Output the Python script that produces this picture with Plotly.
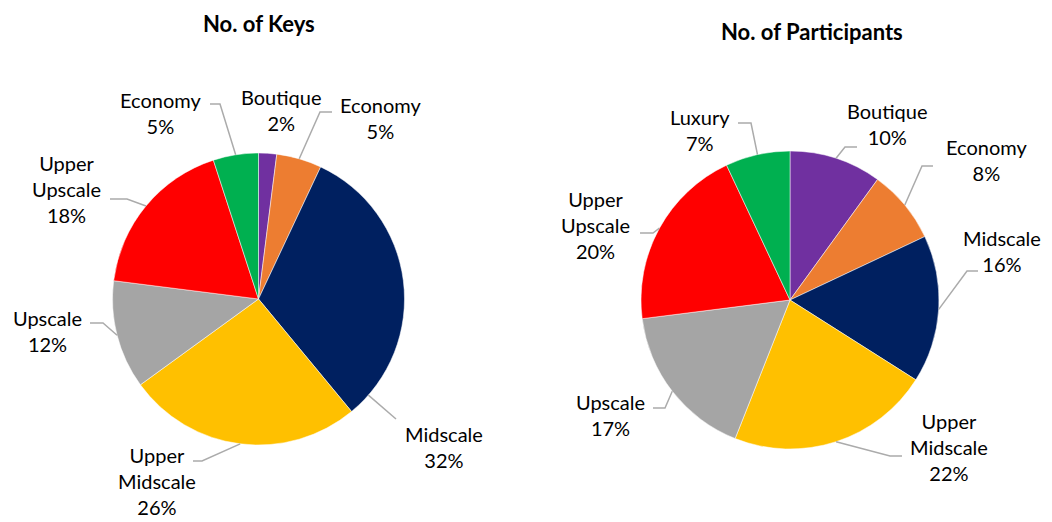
import numpy as np
import plotly.graph_objects as go

W, H = 1052, 522

# slice order, clockwise from 12 o'clock
segments = ["Boutique", "Economy", "Midscale", "Upper Midscale", "Upscale", "Upper Upscale", "Luxury"]
seg_colors = ["#7030A0", "#ED7D31", "#002060", "#FFC000", "#A5A5A5", "#FF0000", "#00B050"]

keys_pct = [2, 5, 32, 26, 12, 18, 5]
keys_names = ["Boutique", "Economy", "Midscale", "Upper<br>Midscale", "Upscale", "Upper<br>Upscale", "Economy"]

part_pct = [10, 8, 16, 22, 17, 20, 7]
part_names = ["Boutique", "Economy", "Midscale", "Upper<br>Midscale", "Upscale", "Upper<br>Upscale", "Luxury"]

# label placement (pixels): text centre, leader start, leader elbow, touch point within slice
keys_text_xy = [(281, 110), (380, 118), (444, 447), (157, 481), (47, 331), (66, 189), (160, 113)]
keys_leader = [None, ((332, 112), (320, 112)), ((396, 419), (396, 419)), ((193, 461), (202, 461)),
               ((90, 323), (103, 323)), ((110, 199), (127, 199)), ((210, 104), (220, 104))]
keys_touch = [0.5, 0.5, 0.92, 0.5, 0.5, 0.5, 0.5]

part_text_xy = [(887, 124), (986, 160), (1002, 251), (949, 447), (610, 415), (595, 225), (700, 130)]
part_leader = [((857, 147), (845, 147)), ((933, 166), (922, 166)), ((978, 271), (967, 271)),
               ((902, 456), (890, 456)), ((653, 408), (665, 408)), ((640, 233), (653, 233)),
               ((738, 123), (751, 123))]
part_touch = [0.5] * 7

charts = [
    dict(title="No. of Keys", title_xy=(259, 24), center=(258.5, 299), r=146,
         values=keys_pct, names=keys_names, text_xy=keys_text_xy, leader=keys_leader, touch=keys_touch),
    dict(title="No. of Participants", title_xy=(812, 31), center=(790, 300), r=149,
         values=part_pct, names=part_names, text_xy=part_text_xy, leader=part_leader, touch=part_touch),
]

FONT = "Lato, 'Open Sans', sans-serif"


def px(x, y):
    return x / W, 1 - y / H


fig = go.Figure()
annotations = []
shapes = []

for c in charts:
    cx, cy = c["center"]
    r = c["r"]
    fig.add_trace(go.Pie(
        labels=segments, values=c["values"], sort=False, direction="clockwise", rotation=0,
        marker=dict(colors=seg_colors, line=dict(color="white", width=0.5)),
        textinfo="none", showlegend=False,
        domain=dict(x=[(cx - r) / W, (cx + r) / W], y=[1 - (cy + r) / H, 1 - (cy - r) / H]),
    ))
    tx, ty = px(*c["title_xy"])
    annotations.append(dict(text="<b>" + c["title"] + "</b>", x=tx, y=ty, xref="paper", yref="paper",
                            xanchor="center", yanchor="middle", showarrow=False,
                            font=dict(family=FONT, size=22, color="black")))

    total = sum(c["values"])
    cum = np.concatenate([[0], np.cumsum(c["values"])])
    for i, v in enumerate(c["values"]):
        lx, ly = px(*c["text_xy"][i])
        annotations.append(dict(text=c["names"][i] + "<br>" + f"{v}%", x=lx, y=ly, xref="paper", yref="paper",
                                xanchor="center", yanchor="middle", showarrow=False, align="center",
                                font=dict(family=FONT, size=20, color="black")))
        if c["leader"][i] is None:
            continue
        theta = np.radians((cum[i] + c["touch"][i] * v) / total * 360)
        ex, ey = cx + r * np.sin(theta), cy - r * np.cos(theta)
        (sx, sy), (bx, by) = c["leader"][i]
        pts = [px(sx, sy), px(bx, by), px(ex, ey)]
        path = "M {:.5f} {:.5f} L {:.5f} {:.5f} L {:.5f} {:.5f}".format(*pts[0], *pts[1], *pts[2])
        shapes.append(dict(type="path", path=path, xref="paper", yref="paper",
                           line=dict(color="#ABABAB", width=1.5)))

fig.update_layout(
    width=W, height=H,
    margin=dict(l=0, r=0, t=0, b=0),
    paper_bgcolor="white", plot_bgcolor="white",
    annotations=annotations, shapes=shapes,
)

fig.write_html("out.html", config={"displayModeBar": False},
               post_script="document.body.style.margin='0px';document.body.style.overflow='hidden';")
